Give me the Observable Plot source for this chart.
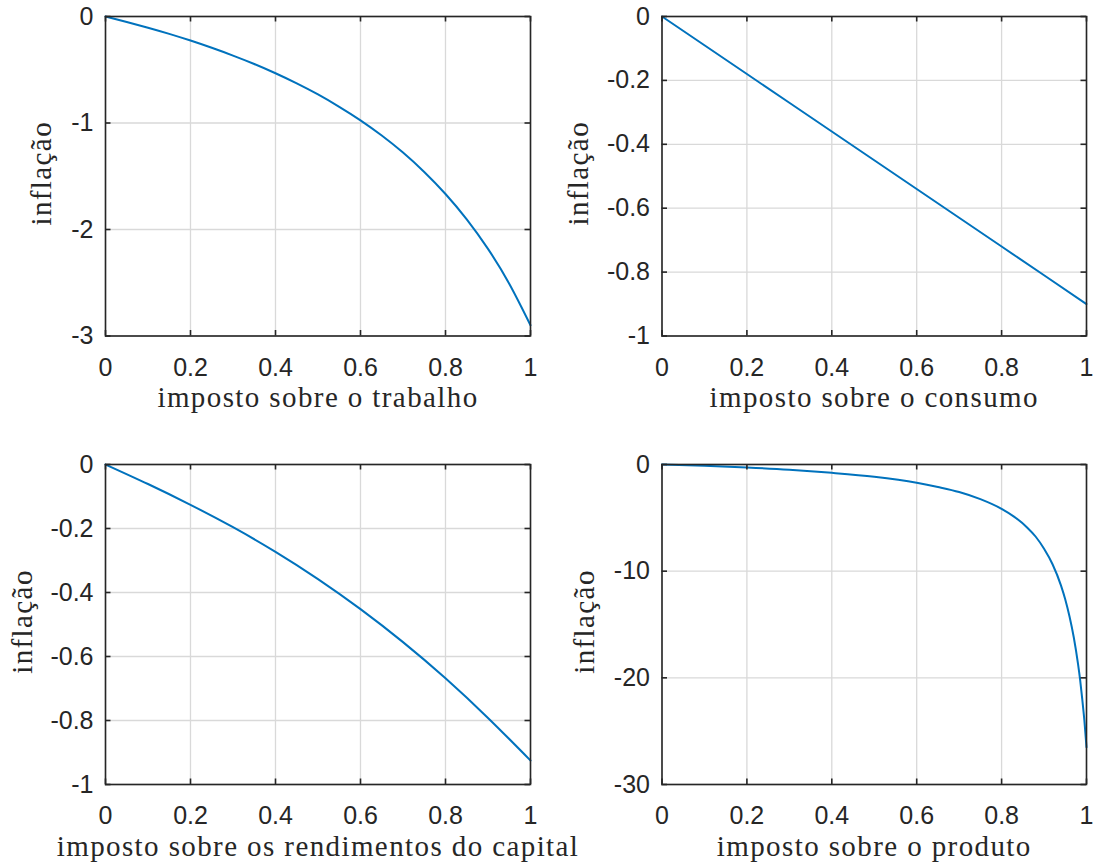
<!DOCTYPE html>
<html>
<head>
<meta charset="utf-8">
<script src="https://cdn.jsdelivr.net/npm/d3@7"></script>
<script src="https://cdn.jsdelivr.net/npm/@observablehq/plot@0.6"></script>
<style>
  html, body { margin: 0; padding: 0; background: #ffffff; }
  #figure { position: relative; width: 1094px; height: 863px; background: #ffffff; overflow: hidden; }
  #figure svg { position: absolute; overflow: visible; }
</style>
</head>
<body>
<div id="figure"></div>
<script>
// Inflation response to each tax rate (0 to 1)

// imposto sobre o trabalho
const laborTax = [0, 0.05, 0.1, 0.15, 0.2, 0.25, 0.3, 0.35, 0.4, 0.45, 0.5, 0.55, 0.6, 0.65, 0.7, 0.75, 0.8, 0.85, 0.9, 0.95, 1];
const laborInflation = [0, -0.051, -0.105, -0.163, -0.226, -0.294, -0.367, -0.446, -0.533, -0.628, -0.732, -0.848, -0.975, -1.118, -1.278, -1.46, -1.667, -1.905, -2.182, -2.509, -2.899];

// imposto sobre o consumo
const consumptionTax = [0, 0.1, 0.2, 0.3, 0.4, 0.5, 0.6, 0.7, 0.8, 0.9, 1];
const consumptionInflation = [0, -0.09, -0.18, -0.27, -0.36, -0.45, -0.54, -0.63, -0.72, -0.81, -0.9];

// imposto sobre os rendimentos do capital
const capitalTax = [0, 0.1, 0.2, 0.3, 0.4, 0.5, 0.6, 0.7, 0.8, 0.9, 1];
const capitalInflation = [0, -0.061, -0.126, -0.196, -0.273, -0.358, -0.452, -0.555, -0.668, -0.792, -0.925];

// imposto sobre o produto
const outputTax = [0, 0.1, 0.2, 0.3, 0.4, 0.5, 0.6, 0.65, 0.7, 0.75, 0.8, 0.83, 0.86, 0.88, 0.9, 0.92, 0.94, 0.95, 0.96, 0.97, 0.98, 0.985, 0.99, 0.995, 1];
const outputInflation = [0, -0.12, -0.28, -0.49, -0.78, -1.15, -1.71, -2.11, -2.58, -3.25, -4.16, -4.91, -5.9, -6.75, -7.9, -9.35, -11.35, -12.65, -14.25, -16.2, -18.7, -20.2, -22.0, -24.0, -26.5];

// axis ticks and labels
const xTicks = [0, 0.2, 0.4, 0.6, 0.8, 1];
const laborYTicks = [0, -1, -2, -3];
const unitYTicks = [0, -0.2, -0.4, -0.6, -0.8, -1];
const outputYTicks = [0, -10, -20, -30];
const yLabel = "inflação";
const xLabels = ["imposto sobre o trabalho", "imposto sobre o consumo", "imposto sobre os rendimentos do capital", "imposto sobre o produto"];

const axisColor = "#262626";
const gridColor = "#d9d9d9";
const lineColor = "#0072BD";
const tickLen = 5.5;

function panel({tax, inflation, curve, yDomain, yTicks, xLabel, yLabelDx, left, top, width, height, margin}) {
  const fw = width - margin.left - margin.right;
  const fh = height - margin.top - margin.bottom;
  const points = tax.map((t, i) => ({t, v: inflation[i]}));
  const svg = Plot.plot({
    width, height,
    marginLeft: margin.left, marginRight: margin.right,
    marginTop: margin.top, marginBottom: margin.bottom,
    style: {fontFamily: "Liberation Sans", background: "transparent", overflow: "visible"},
    x: {domain: [0, 1]},
    y: {domain: yDomain},
    marks: [
      Plot.gridX(xTicks, {stroke: gridColor, strokeOpacity: 1, strokeWidth: 1.3}),
      Plot.gridY(yTicks, {stroke: gridColor, strokeOpacity: 1, strokeWidth: 1.3}),
      Plot.line(points, {x: "t", y: "v", stroke: lineColor, strokeWidth: 2, curve}),
      Plot.frame({stroke: axisColor, strokeWidth: 1.6}),
      // inward ticks on all four sides
      Plot.tickX(xTicks, {x: d => d, insetBottom: fh - tickLen, stroke: axisColor, strokeWidth: 1.6}),
      Plot.tickX(xTicks, {x: d => d, insetTop: fh - tickLen, stroke: axisColor, strokeWidth: 1.6}),
      Plot.tickY(yTicks, {y: d => d, insetRight: fw - tickLen, stroke: axisColor, strokeWidth: 1.6}),
      Plot.tickY(yTicks, {y: d => d, insetLeft: fw - tickLen, stroke: axisColor, strokeWidth: 1.6}),
      Plot.axisX(xTicks, {tickSize: 0, tickPadding: 22, tickFormat: d => String(d), fontSize: 25, color: axisColor, label: null}),
      Plot.axisY(yTicks, {tickSize: 0, tickPadding: 12, tickFormat: d => String(d), fontSize: 25, color: axisColor, label: null}),
      Plot.text([xLabel], {frameAnchor: "bottom", lineAnchor: "middle", textAnchor: "middle", dy: 62, text: d => d, fontFamily: "Liberation Serif", fontSize: 29, fill: axisColor}),
      Plot.text([yLabel], {frameAnchor: "left", lineAnchor: "middle", textAnchor: "middle", dx: yLabelDx, dy: -3, rotate: -90, text: d => d, fontFamily: "Liberation Serif", fontSize: 29, fill: axisColor})
    ]
  });
  svg.style.left = left + "px";
  svg.style.top = top + "px";
  svg.querySelectorAll('g[font-family="Liberation Serif"]').forEach(g => { g.style.letterSpacing = "1.4px"; });
  return svg;
}

const fig = document.getElementById("figure");
const leftMargins = {left: 105, right: 17};
const rightMargins = {left: 114.5, right: 8};
const topMargins = {top: 16, bottom: 96.5};
const bottomMargins = {top: 32, bottom: 79};

fig.appendChild(panel({
  tax: laborTax, inflation: laborInflation, curve: "natural", yDomain: [-3, 0], yTicks: laborYTicks,
  xLabel: xLabels[0], yLabelDx: -64,
  left: 0, top: 0, width: 547, height: 432,
  margin: {...leftMargins, ...topMargins}
}));
fig.appendChild(panel({
  tax: consumptionTax, inflation: consumptionInflation, curve: "linear", yDomain: [-1, 0], yTicks: unitYTicks,
  xLabel: xLabels[1], yLabelDx: -83,
  left: 547, top: 0, width: 547, height: 432,
  margin: {...rightMargins, ...topMargins}
}));
fig.appendChild(panel({
  tax: capitalTax, inflation: capitalInflation, curve: "natural", yDomain: [-1, 0], yTicks: unitYTicks,
  xLabel: xLabels[2], yLabelDx: -83,
  left: 0, top: 432, width: 547, height: 431,
  margin: {...leftMargins, ...bottomMargins}
}));
fig.appendChild(panel({
  tax: outputTax, inflation: outputInflation, curve: "monotone-x", yDomain: [-30, 0], yTicks: outputYTicks,
  xLabel: xLabels[3], yLabelDx: -77,
  left: 547, top: 432, width: 547, height: 431,
  margin: {...rightMargins, ...bottomMargins}
}));
</script>
</body>
</html>
